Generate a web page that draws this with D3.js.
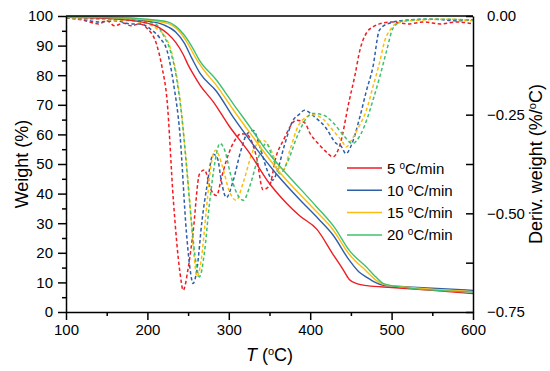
<meta charset="utf-8">
<style>

body {
  margin: 0;
}

svg {
  font-family: "Liberation Sans", Arial, sans-serif;
  background: #fff;
  display: block;
}

.axis path, .axis line {
  stroke: #000;
  stroke-width: 1.5px;
}

.axis text {
  font-family: "Liberation Sans", Arial, sans-serif;
  font-size: 15px;
  fill: #000;
}

.title {
  font-size: 18px;
}

</style>
<svg width="550" height="371"></svg>
<script src="https://d3js.org/d3.v7.min.js"></script>
<script>

var rates = ['5', '10', '15', '20'];
var colors = ['#ee1d24', '#2d5fa9', '#fdbd10', '#3ec06f'];

// TG curves: [T, weight %]
var tg5 = [[100,99.6],[150,99.2],[200,97.6],[215,96],[225,94],[235,91],[244,87],[250,83.5],[256,80.5],[265,76.5],[281,71],[300,63],[326,53.5],[350,43.4],[370,37],[387,32.5],[408,28],[428,19.5],[440,14.5],[448,11],[458,9.5],[470,8.9],[500,8.3],[550,7.3],[600,6.2]];
var tg10 = [[100,99.7],[150,99.4],[200,98.3],[220,97],[235,94.5],[245,91],[255,85.5],[265,80.5],[285,74.5],[305,66],[326,58],[358,46.8],[387,38],[410,31.5],[428,26],[448,17.5],[460,13.5],[469,11.8],[480,10],[490,9],[520,8.5],[600,7.3]];
var tg15 = [[100,99.7],[150,99.5],[200,98.6],[225,97.5],[240,94.5],[250,90.5],[260,85.5],[270,81.5],[285,76.5],[305,68.5],[326,60.5],[362,47.4],[405,34.7],[428,27.8],[448,19.5],[469,13.8],[482,10.5],[492,9.2],[510,8.6],[600,6.9]];
var tg20 = [[100,99.8],[150,99.6],[200,98.9],[225,98],[235,96.5],[244,94],[255,89.5],[264,85],[285,78.3],[305,70.5],[326,62.5],[345,55],[367,47.9],[408,35.5],[430,28.5],[448,20.8],[469,15.2],[480,12],[490,9.6],[510,8.5],[600,6.7]];

// DTG curves: [T, deriv. weight %/oC]
var dtg5 = [[100,-0.005],[120,-0.01],[140,-0.02],[150,-0.012],[160,-0.025],[170,-0.018],[180,-0.025],[190,-0.02],[200,-0.032],[211,-0.07],[218,-0.13],[224,-0.21],[232,-0.47],[240,-0.65],[244,-0.695],[250,-0.64],[256,-0.55],[264,-0.40],[270,-0.39],[278,-0.44],[285,-0.455],[291,-0.41],[297,-0.366],[309,-0.31],[315,-0.298],[322,-0.30],[334,-0.357],[342,-0.44],[350,-0.43],[358,-0.357],[367,-0.315],[383,-0.264],[393,-0.27],[400,-0.298],[412,-0.328],[420,-0.345],[428,-0.357],[436,-0.33],[448,-0.214],[455,-0.15],[461,-0.087],[470,-0.04],[477,-0.028],[485,-0.02],[500,-0.015],[520,-0.02],[540,-0.015],[560,-0.02],[580,-0.015],[600,-0.02]];
var dtg10 = [[100,-0.005],[120,-0.008],[140,-0.015],[160,-0.012],[180,-0.02],[191,-0.02],[205,-0.035],[215,-0.055],[224,-0.087],[232,-0.17],[240,-0.30],[248,-0.55],[253,-0.65],[256,-0.678],[261,-0.64],[267,-0.52],[273,-0.433],[281,-0.35],[286,-0.36],[291,-0.42],[297,-0.46],[305,-0.42],[315,-0.34],[322,-0.30],[330,-0.29],[338,-0.33],[347,-0.39],[354,-0.416],[360,-0.39],[368,-0.33],[379,-0.264],[386,-0.25],[393,-0.239],[405,-0.255],[418,-0.28],[432,-0.323],[438,-0.33],[444,-0.349],[450,-0.33],[461,-0.256],[469,-0.19],[477,-0.13],[485,-0.036],[495,-0.02],[520,-0.01],[550,-0.008],[580,-0.012],[600,-0.01]];
var dtg15 = [[100,-0.004],[130,-0.008],[160,-0.01],[190,-0.015],[210,-0.03],[224,-0.06],[232,-0.11],[240,-0.21],[246,-0.33],[252,-0.47],[257,-0.6],[261,-0.661],[266,-0.62],[272,-0.5],[278,-0.38],[284,-0.34],[292,-0.38],[300,-0.44],[309,-0.467],[318,-0.42],[330,-0.34],[342,-0.315],[352,-0.34],[360,-0.38],[367,-0.39],[375,-0.34],[385,-0.28],[395,-0.256],[403,-0.25],[415,-0.26],[428,-0.29],[440,-0.32],[444,-0.332],[452,-0.31],[460,-0.28],[469,-0.239],[477,-0.18],[485,-0.12],[492,-0.06],[498,-0.036],[510,-0.015],[540,-0.01],[570,-0.008],[600,-0.012]];
var dtg20 = [[100,-0.003],[130,-0.006],[160,-0.008],[190,-0.012],[210,-0.02],[220,-0.05],[228,-0.087],[236,-0.16],[242,-0.25],[248,-0.38],[254,-0.52],[260,-0.63],[264,-0.661],[270,-0.6],[276,-0.48],[283,-0.37],[289,-0.323],[295,-0.34],[302,-0.4],[310,-0.45],[318,-0.467],[326,-0.43],[336,-0.36],[346,-0.323],[354,-0.36],[363,-0.4],[372,-0.37],[385,-0.3],[395,-0.26],[403,-0.247],[415,-0.25],[428,-0.27],[440,-0.3],[452,-0.323],[462,-0.3],[470,-0.26],[477,-0.214],[486,-0.15],[494,-0.087],[502,-0.03],[515,-0.012],[550,-0.008],[600,-0.01]];

var xTicks = [100, 200, 300, 400, 500, 600];
var yTicks = [0, 10, 20, 30, 40, 50, 60, 70, 80, 90, 100];
var y2Ticks = [0, -0.25, -0.5, -0.75];

var tgData = [tg5, tg10, tg15, tg20];
var dtgData = [dtg5, dtg10, dtg15, dtg20];

var svg = d3.select("svg");
var margin = {top: 16, right: 77, bottom: 59, left: 66};
var width = 550 - margin.left - margin.right;
var height = 371 - margin.top - margin.bottom;

var g = svg.append("g")
    .attr("transform", "translate(" + margin.left + "," + margin.top + ")");

var x = d3.scaleLinear().domain([100, 600]).range([0, width]);
var y = d3.scaleLinear().domain([0, 100]).range([height, 0]);
var y2 = d3.scaleLinear().domain([-0.75, 0]).range([height, 0]);

var lineTg = d3.line()
    .x(function(d) { return x(d[0]); })
    .y(function(d) { return y(d[1]); })
    .curve(d3.curveMonotoneX);

var lineDtg = d3.line()
    .x(function(d) { return x(d[0]); })
    .y(function(d) { return y2(d[1]); })
    .curve(d3.curveMonotoneX);

// dashed derivative curves
g.selectAll(".dtg")
  .data(dtgData)
  .enter().append("path")
    .attr("class", "dtg")
    .attr("d", lineDtg)
    .style("fill", "none")
    .style("stroke", function(d, i) { return colors[i]; })
    .style("stroke-width", 1.5)
    .style("stroke-dasharray", "3.5,2.5");

// solid weight curves
g.selectAll(".tg")
  .data(tgData)
  .enter().append("path")
    .attr("class", "tg")
    .attr("d", lineTg)
    .style("fill", "none")
    .style("stroke", function(d, i) { return colors[i]; })
    .style("stroke-width", 1.4);

// minor ticks
var xMinor = g.append("g").attr("class", "axis")
    .attr("transform", "translate(0," + height + ")")
    .call(d3.axisBottom(x).tickValues(d3.range(150, 600, 100)).tickSize(4).tickFormat(""));
xMinor.select(".domain").remove();

var yMinor = g.append("g").attr("class", "axis")
    .call(d3.axisLeft(y).tickValues(d3.range(5, 100, 10)).tickSize(4).tickFormat(""));
yMinor.select(".domain").remove();

var y2Minor = g.append("g").attr("class", "axis")
    .attr("transform", "translate(" + width + ",0)")
    .call(d3.axisRight(y2).tickValues([-0.125, -0.375, -0.625]).tickSize(-7).tickFormat(""));
y2Minor.select(".domain").remove();

// major axes
g.append("g").attr("class", "axis")
    .attr("transform", "translate(0," + height + ")")
    .call(d3.axisBottom(x).tickValues(xTicks).tickSize(8).tickSizeOuter(0).tickPadding(4));

g.append("g").attr("class", "axis")
    .call(d3.axisLeft(y).tickValues(yTicks).tickSize(8).tickSizeOuter(0).tickPadding(5));

g.append("g").attr("class", "axis")
    .attr("transform", "translate(" + width + ",0)")
    .call(d3.axisRight(y2).tickValues(y2Ticks).tickSize(-7).tickSizeOuter(0).tickPadding(14)
      .tickFormat(function(d) { return d3.format(".2f")(d).replace("-", "\u2212"); }));

// top frame
g.append("line")
    .attr("x1", 0).attr("x2", width)
    .attr("y1", 0).attr("y2", 0)
    .style("stroke", "#000").style("stroke-width", 1.5);

// axis titles
var xt = svg.append("text").attr("class", "title")
    .attr("x", margin.left + width / 2).attr("y", 361)
    .attr("text-anchor", "middle");
xt.append("tspan").style("font-style", "italic").text("T");
xt.append("tspan").text(" (");
xt.append("tspan").attr("dy", -6).style("font-size", "11px").text("o");
xt.append("tspan").attr("dy", 6).text("C)");

svg.append("text").attr("class", "title")
    .attr("transform", "translate(28," + (margin.top + height / 2) + ") rotate(-90)")
    .attr("text-anchor", "middle")
    .text("Weight (%)");

var yt2 = svg.append("text").attr("class", "title")
    .attr("transform", "translate(542," + (margin.top + height / 2) + ") rotate(-90)")
    .attr("text-anchor", "middle");
yt2.append("tspan").text("Deriv. weight (%/");
yt2.append("tspan").attr("dy", -6).style("font-size", "11px").text("o");
yt2.append("tspan").attr("dy", 6).text("C)");

// legend
var legend = g.selectAll(".legend")
  .data(rates)
  .enter().append("g")
    .attr("class", "legend")
    .attr("transform", function(d, i) { return "translate(281," + (152 + i * 22.3) + ")"; });

legend.append("line")
    .attr("x1", 0).attr("x2", 35)
    .style("stroke", function(d, i) { return colors[i]; })
    .style("stroke-width", 1.5);

var lt = legend.append("text")
    .attr("x", 40).attr("y", 5.5)
    .style("font-size", "15px");
lt.append("tspan").text(function(d) { return d + " "; });
lt.append("tspan").attr("dy", -5).style("font-size", "10px").text("o");
lt.append("tspan").attr("dy", 5).text("C/min");

</script>
